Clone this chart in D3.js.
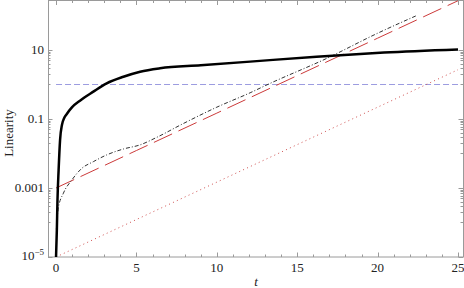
<!DOCTYPE html>
<html>
<head>
<meta charset="utf-8">
<script src="https://cdn.jsdelivr.net/npm/d3@7"></script>
<style>
  html, body { margin: 0; padding: 0; background: #fff; }
  svg { display: block; }
</style>
</head>
<body>
<div id="chart"></div>
<script>
// thick solid curve
var solidT = [0, 0.05, 0.09, 0.16, 0.25, 0.37, 0.5, 0.67, 1.0, 1.49, 2.32, 3.15, 4.19, 5.23, 6.47, 9, 12.07, 16.2, 20.4, 25];
var solidY = [1e-5, 6e-5, 4.5e-4, 3.3e-3, 0.0245, 0.068, 0.105, 0.14, 0.22, 0.34, 0.62, 1.08, 1.68, 2.35, 2.95, 3.6, 4.6, 6.4, 8.4, 10.3];
// black dash-dot curve
var dashDotT = [0.02, 0.14, 0.46, 0.98, 1.6, 2.32, 3.15, 4.19, 5.23, 6.27, 7.92, 10, 12.07, 13.3, 16.85, 19.96, 22.48];
var dashDotY = [6.3e-5, 2.6e-4, 7.1e-4, 1.7e-3, 3.7e-3, 5.8e-3, 9.1e-3, 0.0135, 0.0178, 0.0295, 0.074, 0.22, 0.575, 1.07, 5.75, 30, 102];
// red dashed / red dotted straight lines (log scale)
var expT = [0, 5, 10, 15, 20, 25];
var redDashY = [0.001, 0.0122, 0.148, 1.81, 22, 268];
var redDotY = [1e-5, 1.22e-4, 1.48e-3, 0.0181, 0.22, 2.68];
// blue horizontal level
var levelT = [0, 25];
var levelY = [1, 1];

var xTicks = [0, 5, 10, 15, 20, 25];
var yMajor = [10, 0.1, 0.001, 1e-5];
var yLabels = ['10', '0.1', '0.001', null];

var W = 464, H = 288;
var L = 48, R = 463, T = 0.5, B = 257;

var svg = d3.select('#chart').append('svg').attr('width', W).attr('height', H);

var x = d3.scaleLinear().domain([-0.5, 25.31]).range([L, R]);
var y = d3.scaleLog().domain([1e-5, Math.pow(10, 2.449)]).range([B, 0]);

svg.append('defs').append('clipPath').attr('id', 'clip')
  .append('rect').attr('x', L).attr('y', 0).attr('width', R - L).attr('height', B);

var frameCol = '#9a9a9a';
var font = '"Times New Roman", "Liberation Serif", Times, serif';

// frame
svg.append('rect').attr('x', L + 0.5).attr('y', T).attr('width', R - L).attr('height', B - T)
  .attr('fill', 'none').attr('stroke', frameCol).attr('stroke-width', 1);

// x ticks (every unit, major at 5s), bottom and top
var xt = d3.range(0, 26);
var gx = svg.append('g');
xt.forEach(function (t) {
  var px = Math.round(x(t)) + 0.5;
  var len = t % 5 === 0 ? 4.5 : 2.5;
  gx.append('line').attr('x1', px).attr('x2', px).attr('y1', B).attr('y2', B - len)
    .attr('stroke', frameCol);
  gx.append('line').attr('x1', px).attr('x2', px).attr('y1', T).attr('y2', T + len)
    .attr('stroke', frameCol);
});
xTicks.forEach(function (t) {
  svg.append('text').attr('x', x(t)).attr('y', 272)
    .attr('text-anchor', 'middle').attr('font-family', font).attr('font-size', 13)
    .attr('fill', '#222').text(t);
});

// y ticks: major at labelled decades, minor m*10^(k-1)
var gy = svg.append('g');
yMajor.forEach(function (v) {
  var sub = [];
  if (v > 1e-5) { for (var m = 1; m <= 9; m++) { sub.push(m * v / 10); } }
  sub.forEach(function (s) {
    var py = Math.round(y(s)) + 0.5;
    gy.append('line').attr('x1', L).attr('x2', L + 2.5).attr('y1', py).attr('y2', py).attr('stroke', frameCol);
    gy.append('line').attr('x1', R).attr('x2', R - 2.5).attr('y1', py).attr('y2', py).attr('stroke', frameCol);
  });
  var py = Math.round(y(v)) + 0.5;
  gy.append('line').attr('x1', L).attr('x2', L + 4.5).attr('y1', py).attr('y2', py).attr('stroke', frameCol);
  gy.append('line').attr('x1', R).attr('x2', R - 4.5).attr('y1', py).attr('y2', py).attr('stroke', frameCol);
});
yMajor.forEach(function (v, i) {
  var tx = svg.append('text').attr('x', 44).attr('y', y(v) + 4.5)
    .attr('text-anchor', 'end').attr('font-family', font).attr('font-size', 13).attr('fill', '#222');
  if (yLabels[i] !== null) {
    tx.text(yLabels[i]);
  } else {
    tx.attr('y', y(v) + 3);
    tx.append('tspan').text('10');
    tx.append('tspan').attr('dy', -5).attr('font-size', 9).text('\u22125');
  }
});

// axis titles
svg.append('text').attr('transform', 'translate(13,' + 133 + ') rotate(-90)')
  .attr('text-anchor', 'middle').attr('font-family', font).attr('font-size', 13)
  .attr('fill', '#222').text('Linearity');
svg.append('text').attr('x', 256).attr('y', 286)
  .attr('text-anchor', 'middle').attr('font-family', font).attr('font-size', 13)
  .attr('font-style', 'italic').attr('fill', '#222').text('t');

var plot = svg.append('g').attr('clip-path', 'url(#clip)');

function draw(ts, vs, curve, style) {
  var pts = ts.map(function (t, i) { return [t, vs[i]]; });
  var line = d3.line()
    .x(function (d) { return x(d[0]); })
    .y(function (d) { return y(d[1]); })
    .curve(curve);
  var p = plot.append('path').datum(pts).attr('fill', 'none').attr('d', line);
  Object.keys(style).forEach(function (k) { p.attr(k, style[k]); });
}

draw(levelT, levelY, d3.curveLinear, { stroke: '#9c9ce0', 'stroke-width': 1.2, 'stroke-dasharray': '6,3' });
draw(expT, redDotY, d3.curveLinear, { stroke: '#d05050', 'stroke-width': 1, 'stroke-dasharray': '1,3.3' });
draw(expT, redDashY, d3.curveLinear, { stroke: '#cc3a3a', 'stroke-width': 1, 'stroke-dasharray': '20,7' });
draw(dashDotT, dashDotY, d3.curveMonotoneX, { stroke: '#333', 'stroke-width': 1, 'stroke-dasharray': '4,2,1,2' });
draw(solidT, solidY, d3.curveMonotoneX, { stroke: '#000', 'stroke-width': 2.5 });
</script>
</body>
</html>
